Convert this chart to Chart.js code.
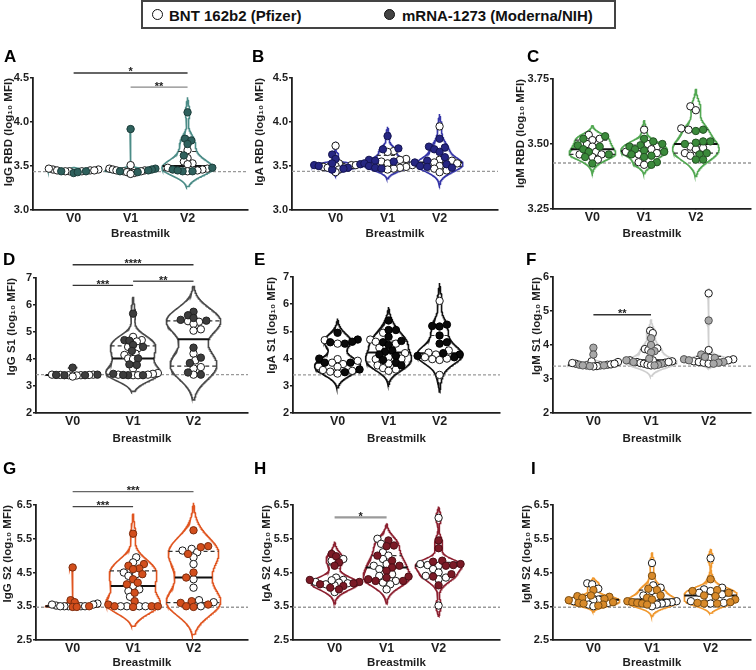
<!DOCTYPE html>
<html>
<head>
<meta charset="utf-8">
<script src="https://cdn.jsdelivr.net/npm/chart.js@4.4.0/dist/chart.umd.min.js"></script>
<style>
body { margin: 0; width: 756px; height: 670px; position: relative; background: #fff; overflow: hidden;
       font-family: "Liberation Sans", Arial, sans-serif; }
canvas { position: absolute; }
.legend { position: absolute; left: 141px; top: 0px; width: 475px; height: 29px; box-sizing: border-box;
          border: 2px solid #444; background: #fff; }
.legend span { position: absolute; font-weight: bold; font-size: 15px; line-height: 15px; top: 6px; color: #111; white-space: nowrap; }
.legend i { position: absolute; top: 7px; width: 11px; height: 11px; border-radius: 50%; box-sizing: border-box; border: 1.2px solid #111; }
.letter { position: absolute; font-weight: bold; font-size: 17px; line-height: 17px; color: #000; }
</style>
</head>
<body>

<div class="legend">
  <i style="left:9px;background:#fff"></i><span style="left:26px">BNT 162b2 (Pfizer)</span>
  <i style="left:241px;background:#444"></i><span style="left:259px">mRNA-1273 (Moderna/NIH)</span>
</div>

<script>
// visits on the x axis
var visits = ['V0', 'V1', 'V2'];

// panel titles (y axis)
var yTitles = ['IgG RBD (log₁₀ MFI)', 'IgA RBD (log₁₀ MFI)', 'IgM RBD (log₁₀ MFI)',
               'IgG S1 (log₁₀ MFI)', 'IgA S1 (log₁₀ MFI)', 'IgM S1 (log₁₀ MFI)',
               'IgG S2 (log₁₀ MFI)', 'IgA S2 (log₁₀ MFI)', 'IgM S2 (log₁₀ MFI)'];
var letters = ['A', 'B', 'C', 'D', 'E', 'F', 'G', 'H', 'I'];

// y axis ranges [min, max, step]
var yRanges = [[3, 4.5, 0.5], [3, 4.5, 0.5], [3.25, 3.75, 0.25],
               [2, 7, 1], [2, 7, 1], [2, 6, 1],
               [2.5, 6.5, 1], [2.5, 6.5, 1], [2.5, 6.5, 1]];

// dashed cutoff line per panel
var cutoffs = [3.435, 3.44, 3.427, 3.42, 3.40, 3.38, 3.47, 3.47, 3.47];

// values per visit [V0, V1, V2] - BNT 162b2 (Pfizer)
var iggRbd_bnt = [[3.46,3.45,3.44,3.44,3.45,3.46,3.44,3.47,3.45],
                  [3.51,3.47,3.46,3.45,3.44,3.43,3.42,3.41,3.45,3.44],
                  [3.68,3.59,3.55,3.53,3.52,3.48,3.47,3.46,3.45,3.44]];
var igaRbd_bnt = [[3.73,3.53,3.51,3.50,3.49,3.48,3.46,3.43,3.51],
                  [3.67,3.66,3.58,3.57,3.55,3.53,3.51,3.49,3.48,3.47,3.46],
                  [3.95,3.57,3.56,3.54,3.53,3.50,3.47,3.45,3.43]];
var igmRbd_bnt = [[3.535,3.52,3.515,3.50,3.49,3.47,3.46,3.46,3.45,3.44],
                  [3.555,3.50,3.49,3.48,3.47,3.465,3.46,3.43,3.42],
                  [3.645,3.63,3.56,3.555,3.49,3.485,3.48,3.465,3.455]];
var iggS1_bnt = [[3.42,3.41,3.40,3.40,3.39,3.41,3.42,3.35],
                 [4.82,4.70,4.65,4.45,4.40,4.20,4.15,4.02,4.00,3.65,3.48,3.45,3.42,3.40,3.40,3.42],
                 [5.40,5.38,5.30,5.10,5.05,4.20,3.95,3.70,3.65,3.42]];
var igaS1_bnt = [[4.68,4.55,3.98,3.92,3.85,3.80,3.70,3.58,3.55,3.52,3.45],
                 [4.95,4.70,4.62,4.55,4.40,4.20,4.05,4.00,3.98,3.82,3.75,3.65,3.60,3.55],
                 [6.12,4.30,4.22,4.15,4.05,4.00,3.98,3.95,3.40]];
var igmS1_bnt = [[3.52,3.50,3.45,3.42,3.40,3.38,3.37,3.40,3.43,3.45,3.47],
                 [4.42,4.35,3.90,3.88,3.85,3.55,3.52,3.50,3.48,3.47,3.45,3.42,3.40,3.55,3.50],
                 [5.52,3.85,3.62,3.58,3.55,3.52,3.50,3.48,3.45]];
var iggS2_bnt = [[3.58,3.55,3.52,3.50,3.50,3.50,3.50,3.50,3.55],
                 [4.95,4.80,4.50,4.45,4.40,4.10,4.00,3.95,3.78,3.50,3.50,3.50,3.50],
                 [5.20,5.15,5.10,4.95,4.75,4.30,4.05,3.68,3.62,3.50]];
var igaS2_bnt = [[4.90,4.85,4.35,4.28,4.22,4.20,4.18,4.15,4.12,3.92,4.27],
                 [5.50,5.35,5.10,5.00,4.90,4.75,4.70,4.60,4.45,4.40,4.25,4.20,4.15,4.00],
                 [6.12,4.75,4.72,4.70,4.60,4.50,4.40,4.35,4.30,3.52]];
var igmS2_bnt = [[4.18,4.15,4.02,3.72,3.70,3.68,3.65,3.60,3.55,3.50],
                 [4.78,4.12,4.05,3.95,3.82,3.78,3.65,3.62,3.60,3.58,3.55,3.50],
                 [4.92,4.05,4.00,3.95,3.90,3.85,3.75,3.65,3.60,3.58]];

// values per visit [V0, V1, V2] - mRNA-1273 (Moderna/NIH)
var iggRbd_mrna = [[3.44,3.42,3.43,3.44],
                   [3.92,3.47,3.46,3.45,3.44,3.43],
                   [4.11,3.81,3.79,3.75,3.62,3.48,3.46,3.44,3.44,3.45]];
var igaRbd_mrna = [[3.63,3.58,3.52,3.51,3.50,3.48,3.46,3.47,3.53],
                   [3.84,3.70,3.69,3.57,3.56,3.55,3.53,3.50,3.48,3.47],
                   [3.81,3.72,3.71,3.69,3.66,3.60,3.56,3.54,3.52,3.50,3.49,3.48]];
var igmRbd_mrna = [[3.53,3.52,3.495,3.49,3.48,3.47,3.46,3.45,3.425],
                   [3.52,3.51,3.50,3.495,3.49,3.48,3.475,3.47,3.46,3.455,3.45,3.43,3.42],
                   [3.555,3.55,3.51,3.51,3.505,3.50,3.465,3.46,3.44,3.44]];
var iggS1_mrna = [[3.68,3.42,3.41,3.40,3.40],
                  [5.68,4.70,4.68,4.52,4.45,4.30,4.02,3.78,3.80,3.45,3.40,3.40,3.41],
                  [5.75,5.62,5.52,5.45,5.42,4.42,4.05,3.85,3.50,3.42]];
var igaS1_mrna = [[4.95,4.70,4.62,4.60,4.55,4.00,3.85,3.85,3.60,3.50],
                  [5.40,5.05,5.05,4.80,4.65,4.60,4.50,4.30,4.25,4.15,4.10,3.95,3.85,3.75],
                  [5.25,5.20,5.18,4.85,4.60,4.55,4.20,4.15,4.10,4.05]];
var igmS1_mrna = [[3.92,3.72,3.42,3.40,3.38,3.40],
                  [4.20,4.00,3.82,3.78,3.60,3.55,3.50,3.45,3.42,3.40],
                  [4.72,3.72,3.65,3.62,3.58,3.55,3.50,3.48,3.45]];
var iggS2_mrna = [[4.65,3.68,3.62,3.50,3.48,3.48],
                  [5.65,4.75,4.70,4.62,4.60,4.45,4.30,4.20,4.15,3.90,3.65,3.55,3.50,3.48,3.50,3.50],
                  [5.75,5.28,5.25,5.05,4.50,4.35,3.65,3.60,3.50,3.48,3.55]];
var igaS2_mrna = [[5.05,4.98,4.80,4.70,4.28,4.22,4.18,4.15,4.10,4.05,4.00],
                  [5.45,5.30,5.28,5.00,4.85,4.70,4.65,4.55,4.35,4.30,4.25,4.25,4.38],
                  [5.45,5.22,4.85,4.82,4.75,4.72,4.70,4.45,4.38,4.12]];
var igmS2_mrna = [[3.98,3.82,3.80,3.78,3.75,3.72,3.68,3.62,3.60,3.58,3.55,3.52],
                  [4.40,4.02,3.98,3.82,3.75,3.70,3.65,3.62,3.60,3.58,3.55],
                  [4.30,3.98,3.95,3.90,3.82,3.80,3.70,3.62,3.58,3.58,3.60]];

var bntData = [iggRbd_bnt, igaRbd_bnt, igmRbd_bnt, iggS1_bnt, igaS1_bnt, igmS1_bnt, iggS2_bnt, igaS2_bnt, igmS2_bnt];
var mrnaData = [iggRbd_mrna, igaRbd_mrna, igmRbd_mrna, iggS1_mrna, igaS1_mrna, igmS1_mrna, iggS2_mrna, igaS2_mrna, igmS2_mrna];

// significance bars: [from visit, to visit, height, label]
var sigBars = [
  [[0, 2, 4.557, '*'], [1, 2, 4.397, '**']],
  [], [],
  [[0, 2, 7.49, '****'], [0, 1, 6.73, '***'], [1, 2, 6.88, '**']],
  [],
  [[0, 1, 4.89, '**']],
  [[0, 2, 6.895, '***'], [0, 1, 6.45, '***']],
  [[0, 1, 6.135, '*']],
  []
];

// ---- styles & layout (pixels on the page) ----
var colors = [
  {fill: '#2f615d', edge: '#1d3d3a', violin: '#4b8c87', bar: ['#333', '#888']},
  {fill: '#262682', edge: '#141450', violin: '#3636a8', bar: []},
  {fill: '#3b8a3b', edge: '#235223', violin: '#52a852', bar: []},
  {fill: '#3d3d3d', edge: '#222', violin: '#4a4a4a', bar: ['#333', '#333', '#555']},
  {fill: '#0a0a0a', edge: '#000', violin: '#111', bar: []},
  {fill: '#a8a8a8', edge: '#555', violin: '#cfcfcf', bar: ['#333']},
  {fill: '#d24e1c', edge: '#7a2c0e', violin: '#e05520', bar: ['#666', '#444']},
  {fill: '#7b1a26', edge: '#4a0f16', violin: '#8c2030', bar: ['#9a9a9a']},
  {fill: '#d88a2a', edge: '#7a4e14', violin: '#f0982e', bar: []}
];
// L/R/T/B = plot area, p0/p2 = pixel of V0/V2, tc = y title centre, xt = x title centre
var layout = [
  {L: 33,  R: 250, T: 78,  B: 210, p0: 74,  p2: 189, tc: 9,   xt: 233, lx: 4,   ly: 48},
  {L: 292, R: 500, T: 78,  B: 210, p0: 336, p2: 441, tc: 260, xt: 233, lx: 252, ly: 48},
  {L: 553, R: 754, T: 79,  B: 209, p0: 593, p2: 698, tc: 521, xt: 233, lx: 527, ly: 48},
  {L: 36,  R: 250, T: 278, B: 413, p0: 73,  p2: 195, tc: 12,  xt: 438, lx: 3,   ly: 251},
  {L: 293, R: 502, T: 277, B: 413, p0: 338, p2: 441, tc: 272, xt: 438, lx: 254, ly: 251},
  {L: 553, R: 754, T: 277, B: 413, p0: 594, p2: 711, tc: 537, xt: 438, lx: 526, ly: 251},
  {L: 36,  R: 250, T: 505, B: 640, p0: 73,  p2: 195, tc: 8,   xt: 665, lx: 3,   ly: 460},
  {L: 293, R: 502, T: 505, B: 640, p0: 335, p2: 440, tc: 267, xt: 665, lx: 254, ly: 460},
  {L: 553, R: 754, T: 505, B: 640, p0: 594, p2: 713, tc: 527, xt: 665, lx: 531, ly: 460}
];

var RADIUS = 3.7;
var HALF_W = 0.45;
var SPREAD = 25;   // widest point offset, px
var AXIS = '#1e1e1e';

function kde(vals) {
  var n = vals.length;
  var sorted = vals.slice().sort(function (a, b) { return a - b; });
  var mean = vals.reduce(function (a, b) { return a + b; }, 0) / n;
  var sd = Math.sqrt(vals.reduce(function (a, b) { return a + (b - mean) * (b - mean); }, 0) / (n - 1));
  var iqr = quantile(sorted, 0.75) - quantile(sorted, 0.25);
  var h = Math.max(0.9 * Math.min(sd, iqr / 1.34) * Math.pow(n, -0.2), 0.006);
  var f = function (y) {
    var s = 0;
    for (var i = 0; i < n; i++) { var z = (y - vals[i]) / h; s += Math.exp(-0.5 * z * z); }
    return s;
  };
  return {f: f, lo: sorted[0] - 2.2 * h, hi: sorted[n - 1] + 2.2 * h};
}

function quantile(sorted, p) {
  var pos = (sorted.length + 1) * p - 1;
  var i = Math.max(0, Math.min(sorted.length - 2, Math.floor(pos)));
  var t = Math.max(0, Math.min(1, pos - i));
  return sorted[i] + (sorted[i + 1] - sorted[i]) * t;
}

// beeswarm offsets, in pixels converted to category units
function swarm(vals, pxY, pxX) {
  var order = vals.map(function (v, i) { return i; }).sort(function (a, b) { return vals[a] - vals[b]; });
  var placed = [];
  var px = [];
  var d = 2 * RADIUS * 0.8;
  order.forEach(function (idx, j) {
    var y = vals[idx] * pxY;
    var x = 0;
    var sign = j % 2 ? 1 : -1;
    for (var k = 0; k < 80; k++) {
      var cand = k === 0 ? 0 : (k % 2 ? sign : -sign) * Math.ceil(k / 2) * RADIUS * 0.5;
      var ok = placed.every(function (p) { return Math.hypot(p.x - cand, p.y - y) >= d; });
      if (ok) { x = cand; break; }
    }
    placed.push({x: x, y: y});
    px[idx] = x;
  });
  var widest = Math.max.apply(null, px.map(Math.abs));
  var squeeze = widest > SPREAD ? SPREAD / widest : 1;
  return px.map(function (x) { return x * squeeze / pxX; });
}

function drawPanel(i) {
  var lay = layout[i], col = colors[i], yr = yRanges[i];
  var unit = (lay.p2 - lay.p0) / 2;
  var pxY = (lay.B - lay.T) / (yr[1] - yr[0]);
  var xMin = (lay.L - lay.p0) / unit;
  var xMax = 2 + (lay.R - lay.p2) / unit;

  var left = Math.round(lay.tc - 7);
  var top = lay.T - 34;
  var right = Math.min(756, lay.R + 3);
  var bottom = Math.min(670, lay.xt + 8);

  var canvas = document.createElement('canvas');
  canvas.width = right - left;
  canvas.height = bottom - top;
  canvas.style.left = left + 'px';
  canvas.style.top = top + 'px';
  document.body.appendChild(canvas);

  var datasets = [];
  var bntPts = [], mrnaPts = [];

  for (var v = 0; v < visits.length; v++) {
    var b = bntData[i][v], m = mrnaData[i][v];
    var all = b.concat(m);
    var offs = swarm(all, pxY, unit);
    all.forEach(function (val, j) {
      (j < b.length ? bntPts : mrnaPts).push({x: v + offs[j], y: val});
    });

    // violin outline from a kernel density of the values
    var k = kde(all);
    var steps = 240, ys = [], fs = [], fmax = 0;
    for (var s = 0; s <= steps; s++) {
      var yy = k.lo + (k.hi - k.lo) * s / steps;
      var ff = k.f(yy);
      ys.push(yy); fs.push(ff);
      if (ff > fmax) fmax = ff;
    }
    var outline = [];
    for (s = 0; s <= steps; s++) outline.push({x: v + HALF_W * fs[s] / fmax, y: ys[s]});
    for (s = steps; s >= 0; s--) outline.push({x: v - HALF_W * fs[s] / fmax, y: ys[s]});
    outline.push(outline[0]);
    datasets.push({data: outline, showLine: true, pointRadius: 0, borderColor: col.violin,
                   borderWidth: 1.6, fill: false, tension: 0, clip: false, order: 5});

    // median and quartiles
    var sorted = all.slice().sort(function (a, c) { return a - c; });
    [[0.5, false], [0.25, true], [0.75, true]].forEach(function (q) {
      var qv = quantile(sorted, q[0]);
      var w = HALF_W * k.f(qv) / fmax;
      datasets.push({data: [{x: v - w, y: qv}, {x: v + w, y: qv}], showLine: true, pointRadius: 0,
                     borderColor: q[1] ? '#333' : '#111', borderWidth: q[1] ? 1.2 : 2,
                     borderDash: q[1] ? [4, 3] : [], clip: false, order: 4});
    });
  }

  // dashed cutoff
  datasets.push({data: [{x: xMin, y: cutoffs[i]}, {x: xMax, y: cutoffs[i]}], showLine: true, pointRadius: 0,
                 borderColor: '#999', borderWidth: 1.3, borderDash: [3, 2], clip: false, order: 6});

  // significance bars
  sigBars[i].forEach(function (sb, j) {
    datasets.push({data: [{x: sb[0], y: sb[2]}, {x: sb[1], y: sb[2]}], showLine: true, pointRadius: 0,
                   borderColor: col.bar[j] || '#333', borderWidth: i === 7 ? 2.2 : 1.3, clip: false, order: 3});
  });

  datasets.push({data: bntPts, pointRadius: RADIUS, pointBackgroundColor: '#fff', pointBorderColor: '#1a1a1a',
                 pointBorderWidth: 1, clip: false, order: 1});
  datasets.push({data: mrnaPts, pointRadius: RADIUS, pointBackgroundColor: col.fill, pointBorderColor: col.edge,
                 pointBorderWidth: 1, clip: false, order: 0});

  var dec = yr[2] < 0.5 ? 2 : (yr[2] < 1 || yr[0] % 1 ? 1 : 0);

  var starPlugin = {
    id: 'stars' + i,
    afterDatasetsDraw: function (chart) {
      var ctx = chart.ctx, xs = chart.scales.x, ysc = chart.scales.y;
      ctx.save();
      ctx.fillStyle = '#222';
      ctx.font = 'bold 11px "Liberation Sans", Arial, sans-serif';
      ctx.textAlign = 'center';
      ctx.textBaseline = 'alphabetic';
      sigBars[i].forEach(function (sb) {
        ctx.fillText(sb[3], xs.getPixelForValue((sb[0] + sb[1]) / 2), ysc.getPixelForValue(sb[2]) + 2.5);
      });
      ctx.restore();
    }
  };

  new Chart(canvas, {
    type: 'scatter',
    data: {datasets: datasets},
    options: {
      responsive: false,
      animation: false,
      events: [],
      layout: {padding: {left: 0, top: lay.T - top, right: right - lay.R, bottom: 0}},
      plugins: {legend: {display: false}, tooltip: {enabled: false}},
      scales: {
        x: {
          type: 'linear', min: xMin, max: xMax, bounds: 'data',
          afterBuildTicks: function (sc) { sc.ticks = visits.map(function (t, n) { return {value: n}; }); },
          afterFit: function (sc) { sc.height = bottom - lay.B; },
          ticks: {callback: function (val) { return visits[val]; }, autoSkip: false, maxRotation: 0,
                  padding: 0, color: '#1e1e1e', font: {family: '"Liberation Sans", Arial', size: 12.5, weight: 'bold'}},
          grid: {display: true, drawOnChartArea: false, drawTicks: true, tickLength: 1, color: AXIS, lineWidth: 1.5},
          border: {display: true, color: AXIS, width: 1.8},
          title: {display: true, text: 'Breastmilk', color: '#1e1e1e', padding: {top: 0, bottom: 0},
                  font: {family: '"Liberation Sans", Arial', size: 11.5, weight: 'bold'}}
        },
        y: {
          min: yr[0], max: yr[1],
          afterFit: function (sc) { sc.width = lay.L - left; },
          ticks: {stepSize: yr[2], padding: 1, color: '#1e1e1e',
                  callback: function (val) { return Number(val).toFixed(dec); },
                  font: {family: '"Liberation Sans", Arial', size: 11, weight: 'bold'}},
          grid: {display: true, drawOnChartArea: false, drawTicks: true, tickLength: 3, color: AXIS, lineWidth: 1.5},
          border: {display: true, color: AXIS, width: 1.8},
          title: {display: true, text: yTitles[i], align: 'end', color: '#1e1e1e', padding: {top: 0, bottom: 0},
                  font: {family: '"Liberation Sans", Arial', size: 11.5, weight: 'bold'}}
        }
      }
    },
    plugins: [starPlugin]
  });

  var lt = document.createElement('div');
  lt.className = 'letter';
  lt.textContent = letters[i];
  lt.style.left = lay.lx + 'px';
  lt.style.top = lay.ly + 'px';
  document.body.appendChild(lt);
}

for (var p = 0; p < 9; p++) drawPanel(p);
</script>
</body>
</html>
